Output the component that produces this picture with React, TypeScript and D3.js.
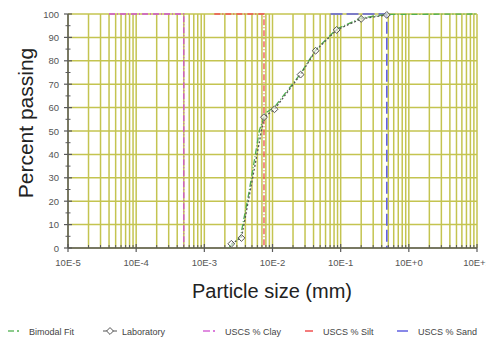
import * as d3 from "d3";

// particle sizes in mm, percent passing
const labSize = [0.0249, 0.035, 0.075, 0.107, 0.258, 0.429, 0.873, 2.0, 4.75];
const labPass = [1.8, 4.3, 55.9, 59.3, 74.1, 84.3, 93.2, 97.9, 99.6];

const fitSize = [0.0233, 0.0338, 0.0444, 0.0543, 0.0644, 0.0789, 0.107, 0.258, 0.429, 0.873, 2.0, 4.7, 100];
const fitPass = [0.4, 4.7, 22.6, 37.6, 50.4, 57.7, 60.2, 74.5, 84.6, 93.6, 98.3, 99.8, 100];

const claySize = [0.0004, 0.005, 0.005];
const clayPass = [100, 100, 0];
const siltSize = [0.014, 0.075, 0.075];
const siltPass = [100, 100, 0];
const sandSize = [0.71, 4.75, 4.75];
const sandPass = [100, 100, 0];

const xTicks = [1e-4, 1e-3, 1e-2, 1e-1, 1, 10, 100];
const xTickLabels = ["10E-5", "10E-4", "10E-3", "10E-2", "10E-1", "10E+0", "10E+1"];
const yTicks = [0, 10, 20, 30, 40, 50, 60, 70, 80, 90, 100];

const legendNames = ["Bimodal Fit", "Laboratory", "USCS % Clay", "USCS % Silt", "USCS % Sand"];

const W = 486;
const H = 341;
const margin = { top: 14, right: 9, bottom: 93, left: 68 };
const FONT = "'Liberation Sans', Arial, sans-serif";
const GRID = "#c4c450";
const AXIS = "#5a5a5a";

export default function App() {
  const x = d3.scaleLog().domain([1e-4, 100]).range([margin.left, W - margin.right]);
  const y = d3.scaleLinear().domain([0, 100]).range([H - margin.bottom, margin.top]);

  const minor: number[] = [];
  for (let e = -4; e < 2; e++) {
    for (let m = 2; m <= 9; m++) minor.push(m * Math.pow(10, e));
  }
  const yMinor = yTicks.slice(0, -1).map((v) => v + 5);

  const line = (xs: number[], ys: number[]) =>
    d3.line<number>().x((_, i) => x(xs[i])).y((_, i) => y(ys[i]))(xs.map((_, i) => i)) ?? "";

  const y0 = y(0);
  const y100 = y(100);

  const legendX = [8, 103, 203, 305, 397];
  const legendTextX = [29, 122, 225, 323, 418];
  const legendY = 331;
  const diamond = d3.symbol(d3.symbolDiamond2, 30)() ?? "";

  return (
    <svg width={W} height={H} style={{ position: "absolute", left: 0, top: 0, background: "#fff" }} fontFamily={FONT}>
      {/* grid */}
      {yTicks.map((t) => (
        <line key={"h" + t} x1={x(1e-4)} x2={x(100)} y1={y(t)} y2={y(t)} stroke={GRID} strokeWidth={1.5} />
      ))}
      {[...minor, ...xTicks].map((t, i) => (
        <line key={"v" + i} x1={x(t)} x2={x(t)} y1={y100} y2={y0} stroke={GRID} strokeWidth={1.5} />
      ))}

      {/* USCS limits */}
      <path d={line(claySize, clayPass)} fill="none" stroke="#d050d0" strokeWidth={1.3} strokeDasharray="6 2 1 2" />
      <path d={line(siltSize, siltPass)} fill="none" stroke="#f05050" strokeWidth={1.3} strokeDasharray="6 2 1 2" />
      <path d={line(sandSize, sandPass)} fill="none" stroke="#6060e0" strokeWidth={1.6} strokeDasharray="12 4" />

      {/* fit and lab */}
      <path d={line(fitSize, fitPass)} fill="none" stroke="#50b050" strokeWidth={1.3} strokeDasharray="6 2 1 2" />
      <path d={line(labSize, labPass)} fill="none" stroke="#555" strokeWidth={1.3} strokeDasharray="2 2" />
      {labSize.map((s, i) => (
        <path
          key={"m" + i}
          d={diamond}
          transform={`translate(${x(s)},${y(labPass[i])})`}
          fill="#fff"
          fillOpacity={0.6}
          stroke="#555"
          strokeWidth={1}
        />
      ))}

      {/* axes */}
      <line x1={x(1e-4)} x2={x(1e-4)} y1={y100} y2={y0} stroke={AXIS} strokeWidth={1.5} />
      {yTicks.map((t) => (
        <line key={"yt" + t} x1={x(1e-4) - 4} x2={x(1e-4) + 4} y1={y(t)} y2={y(t)} stroke={AXIS} strokeWidth={1.2} />
      ))}
      {yMinor.map((t) => (
        <line key={"ym" + t} x1={x(1e-4) - 2.5} x2={x(1e-4) + 2.5} y1={y(t)} y2={y(t)} stroke={AXIS} strokeWidth={1} />
      ))}
      {yTicks.map((t) => (
        <text key={"yl" + t} x={x(1e-4) - 9} y={y(t) + 3.5} textAnchor="end" fontSize={9.5} fill="#555">
          {t}
        </text>
      ))}
      <line x1={x(1e-4)} x2={x(100)} y1={y0} y2={y0} stroke={AXIS} strokeWidth={1.5} />
      {minor.map((t, i) => (
        <line key={"xm" + i} x1={x(t)} x2={x(t)} y1={y0 - 3} y2={y0} stroke={AXIS} strokeWidth={1} />
      ))}
      {xTicks.map((t) => (
        <line key={"xt" + t} x1={x(t)} x2={x(t)} y1={y0 - 4} y2={y0 + 4} stroke={AXIS} strokeWidth={1.2} />
      ))}
      {xTicks.map((t, i) => (
        <text key={"xl" + t} x={x(t)} y={y0 + 18} textAnchor="middle" fontSize={9.5} fill="#555">
          {xTickLabels[i]}
        </text>
      ))}

      {/* titles */}
      <text transform={`translate(33,${(y100 + y0) / 2 - 8}) rotate(-90)`} textAnchor="middle" fontSize={21} fill="#222">
        Percent passing
      </text>
      <text x={272} y={298} textAnchor="middle" fontSize={20} fill="#222">
        Particle size (mm)
      </text>

      {/* legend */}
      <g fontSize={9} fill="#444">
        <line x1={legendX[0]} x2={legendX[0] + 6} y1={legendY} y2={legendY} stroke="#50b050" strokeWidth={1.3} />
        <line x1={legendX[0] + 9} x2={legendX[0] + 11} y1={legendY} y2={legendY} stroke="#50b050" strokeWidth={1.3} />
        <line x1={legendX[1]} x2={legendX[1] + 14} y1={legendY} y2={legendY} stroke="#555" strokeWidth={1} />
        <path d={diamond} transform={`translate(${legendX[1] + 7},${legendY})`} fill="#fff" stroke="#555" />
        <line x1={legendX[2]} x2={legendX[2] + 7} y1={legendY} y2={legendY} stroke="#d050d0" strokeWidth={1.3} />
        <line x1={legendX[2] + 10} x2={legendX[2] + 12} y1={legendY} y2={legendY} stroke="#d050d0" strokeWidth={1.3} />
        <line x1={legendX[3]} x2={legendX[3] + 8} y1={legendY} y2={legendY} stroke="#f05050" strokeWidth={1.5} />
        <line x1={legendX[4]} x2={legendX[4] + 11} y1={legendY} y2={legendY} stroke="#6060e0" strokeWidth={1.5} />
        {legendNames.map((n, i) => (
          <text key={n} x={legendTextX[i]} y={legendY + 3.5}>
            {n}
          </text>
        ))}
      </g>
    </svg>
  );
}
